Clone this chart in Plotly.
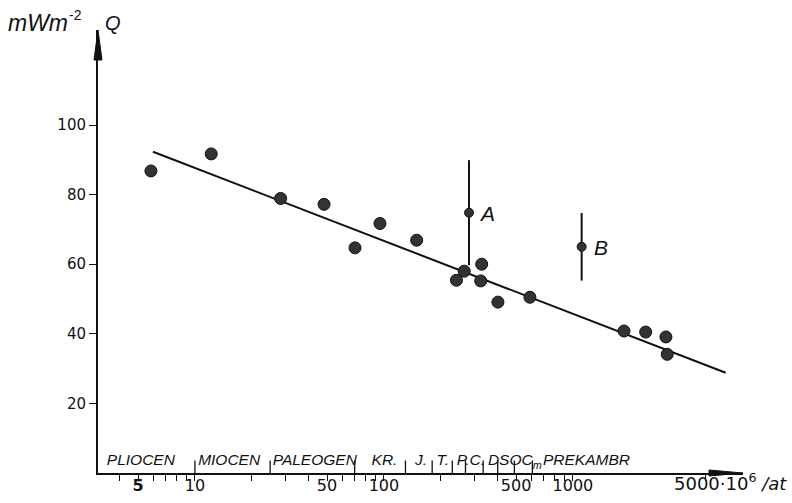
import math
import plotly.graph_objects as go

# ---- data ----
age_ma = [5.85, 12.2, 28.4, 48.2, 70.3, 95.3, 149, 242, 266, 329, 325, 401, 592, 1862, 2426, 3105, 3155]
heat_flow = [86.8, 91.7, 78.9, 77.2, 64.7, 71.7, 66.9, 55.4, 58.0, 60.0, 55.2, 49.1, 50.5, 40.8, 40.5, 39.1, 34.1]

fit_age = [6.0, 6430]
fit_q = [92.3, 28.8]

special_names = ["A", "B"]
special_age = [282, 1112]
special_q = [74.8, 65.0]
special_hi = [89.9, 74.7]
special_lo = [59.7, 55.3]

boundary_age = [10, 25, 70, 130, 180, 230, 270, 335, 400, 490, 610]
era_names = ["PLIOCEN", "MIOCEN", "PALEOGEN", "KR.", "J.", "T.", "P.C.", "DSOC<sub>m</sub>", "PREKAMBR"]
era_start = [3.42, 10.4, 25.8, 86, 146, 190, 243, 355, 694]

x_tickvals = [4, 5, 6, 7, 8, 9, 10, 20, 30, 40, 50, 60, 70, 80, 90, 100,
              200, 300, 400, 500, 600, 700, 800, 900, 1000, 5000]
x_ticklabels = {5: "<b>5</b>", 10: "10", 50: "50", 100: "100", 500: "500", 1000: "1000"}
y_tickvals = [20, 40, 60, 80, 100]

x_min, x_max = 3.07, 7940
y_min, y_max = 0, 127.3

BLACK = "#111111"
ITAL_FONT = "Liberation Sans"

fig = go.Figure()

# regression line
fig.add_trace(go.Scatter(x=fit_age, y=fit_q, mode="lines",
                         line=dict(color=BLACK, width=2), hoverinfo="skip"))

# main points
fig.add_trace(go.Scatter(x=age_ma, y=heat_flow, mode="markers",
                         marker=dict(size=12, color="#333333",
                                     line=dict(color=BLACK, width=1))))

# special points with ranges
fig.add_trace(go.Scatter(
    x=special_age, y=special_q, mode="markers",
    marker=dict(size=9, color="#333333", line=dict(color=BLACK, width=1)),
    error_y=dict(type="data", symmetric=False,
                 array=[h - q for h, q in zip(special_hi, special_q)],
                 arrayminus=[q - l for l, q in zip(special_lo, special_q)],
                 width=0, thickness=2, color=BLACK)))

# era boundary marks above the axis
bx, by = [], []
for b in boundary_age:
    bx += [b, b, None]
    by += [0, 3.6, None]
fig.add_trace(go.Scatter(x=bx, y=by, mode="lines",
                         line=dict(color=BLACK, width=1.3), hoverinfo="skip"))

# era names
fig.add_trace(go.Scatter(x=era_start, y=[3.3] * len(era_start), mode="text",
                         text=["<i>" + n + "</i>" for n in era_names],
                         textposition="middle right",
                         textfont=dict(family=ITAL_FONT, size=15.5, color=BLACK),
                         hoverinfo="skip"))

annotations = []
for name, a, q, dx in zip(special_names, special_age, special_q, [8, 10]):
    annotations.append(dict(x=math.log10(a), y=q, xref="x", yref="y", text="<i>" + name + "</i>",
                            showarrow=False, xanchor="left", yanchor="middle", xshift=dx, yshift=-1,
                            font=dict(family=ITAL_FONT, size=21, color=BLACK)))

plot_w = 792 - 98 - 49
plot_h = 503 - 30 - 30
# y-axis label
annotations.append(dict(x=(6 - 98) / plot_w, y=1 + 7 / plot_h, xref="paper", yref="paper",
                        text="<i>mWm</i>", showarrow=False, xanchor="left", yanchor="middle",
                        font=dict(family=ITAL_FONT, size=23, color=BLACK)))
annotations.append(dict(x=(67 - 98) / plot_w, y=1 + 15 / plot_h, xref="paper", yref="paper",
                        text="-2", showarrow=False, xanchor="left", yanchor="middle",
                        font=dict(family=ITAL_FONT, size=14, color=BLACK)))
annotations.append(dict(x=(103 - 98) / plot_w, y=1 + 7 / plot_h, xref="paper", yref="paper",
                        text="<i>Q</i>", showarrow=False, xanchor="left", yanchor="middle",
                        font=dict(family=ITAL_FONT, size=20, color=BLACK)))
# x-axis unit label
annotations.append(dict(x=math.log10(5000), y=0, xref="x", yref="y",
                        text="5000·10<sup>6</sup> <i>/at</i>", showarrow=False,
                        xanchor="left", yanchor="middle", xshift=-33, yshift=-9,
                        font=dict(family="DejaVu Sans", size=18, color=BLACK)))

shapes = [
    # x-axis arrow head
    dict(type="path", xref="paper", yref="paper", xsizemode="pixel", ysizemode="pixel",
         xanchor=1, yanchor=0, path="M 0 0 L -34 3 L -34 -3 Z",
         fillcolor=BLACK, line=dict(color=BLACK, width=1)),
    # y-axis arrow head
    dict(type="path", xref="paper", yref="paper", xsizemode="pixel", ysizemode="pixel",
         xanchor=0, yanchor=1, path="M 0 0 L -4 -30 L 4 -30 Z",
         fillcolor=BLACK, line=dict(color=BLACK, width=1)),
]

fig.update_layout(
    width=792, height=503,
    margin=dict(l=98, r=49, t=30, b=30, pad=0),
    paper_bgcolor="white", plot_bgcolor="white",
    showlegend=False,
    annotations=annotations,
    shapes=shapes,
    xaxis=dict(type="log", range=[math.log10(x_min), math.log10(x_max)],
               tickmode="array", tickvals=x_tickvals,
               ticktext=[x_ticklabels.get(v, "") for v in x_tickvals],
               ticks="outside", ticklen=6, tickwidth=1.3, tickcolor=BLACK,
               ticklabelstandoff=-9, automargin=False,
               showline=True, linecolor=BLACK, linewidth=2,
               showgrid=False, zeroline=False,
               tickfont=dict(family="DejaVu Sans", size=16, color=BLACK)),
    yaxis=dict(range=[y_min, y_max], tickmode="array", tickvals=y_tickvals,
               ticks="outside", ticklen=7, tickwidth=1.3, tickcolor=BLACK,
               automargin=False,
               showline=True, linecolor=BLACK, linewidth=2,
               showgrid=False, zeroline=False,
               tickfont=dict(family="DejaVu Sans", size=15, color=BLACK)),
)

fig.write_html("out.html")
